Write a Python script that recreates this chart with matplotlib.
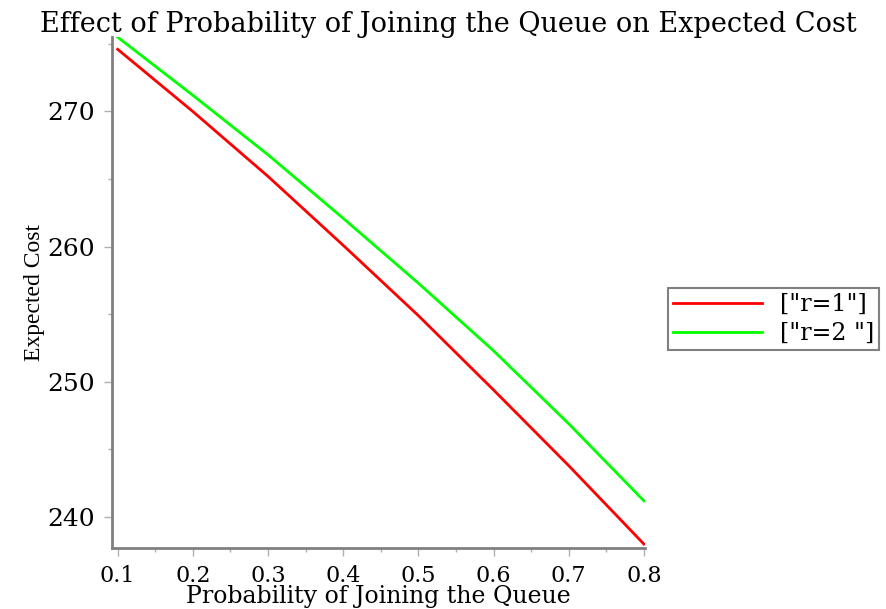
import matplotlib
matplotlib.use("Agg")
import matplotlib.pyplot as plt
from matplotlib.ticker import MultipleLocator

# probability of joining the queue
p = [0.1, 0.2, 0.3, 0.4, 0.5, 0.6, 0.7, 0.8]
# expected cost for r=1 and r=2
cost_r1 = [274.6, 270.0, 265.2, 260.1, 254.9, 249.4, 243.8, 238.0]
cost_r2 = [275.5, 271.2, 266.8, 262.1, 257.3, 252.3, 246.9, 241.2]
labels = ['["r=1"]', '["r=2 "]']

serif = ["Liberation Serif", "DejaVu Serif"]
wide = ["DejaVu Serif"]

fig = plt.figure(figsize=(8.86, 6.09), dpi=100)
ax = fig.add_axes([0.126, 0.100, 0.602, 0.839])

ax.plot(p, cost_r1, color="#ff0000", lw=2, label=labels[0])
ax.plot(p, cost_r2, color="#00ff00", lw=2, label=labels[1])

ax.set_xlim(0.092, 0.8015)
ax.set_ylim(237.7, 275.5)
ax.xaxis.set_major_locator(MultipleLocator(0.1))
ax.xaxis.set_minor_locator(MultipleLocator(0.05))
ax.yaxis.set_major_locator(MultipleLocator(10))
ax.yaxis.set_minor_locator(MultipleLocator(5))

for s in ["top", "right"]:
    ax.spines[s].set_visible(False)
for s in ["left", "bottom"]:
    ax.spines[s].set_color("#808080")
    ax.spines[s].set_linewidth(2)

ax.tick_params(which="major", length=6, width=1, color="#b0b0b0", pad=6)
ax.tick_params(which="minor", length=3, width=1, color="#b0b0b0")
ax.tick_params(axis="x", pad=6)
for t in ax.get_xticklabels():
    t.set_fontfamily(wide)
    t.set_fontsize(16)
for t in ax.get_yticklabels():
    t.set_fontfamily(wide)
    t.set_fontsize(18)

# title centred on the figure, x label placed near the bottom edge
fig.text(0.506, 0.947, "Effect of Probability of Joining the Queue on Expected Cost",
         fontfamily=wide, fontsize=19.5, ha="center", va="baseline")
fig.text(0.427, 0.01, "Probability of Joining the Queue",
         fontfamily=wide, fontsize=17, ha="center", va="baseline")
ax.set_ylabel("Expected Cost", fontfamily=serif, fontsize=17, labelpad=2)

leg = fig.legend(loc="center left", bbox_to_anchor=(0.754, 0.476),
                 prop={"family": wide, "size": 17}, fancybox=False,
                 edgecolor="#808080", framealpha=1, handlelength=3.8,
                 borderpad=0.2, labelspacing=0.25, handletextpad=0.75,
                 borderaxespad=0)
leg.get_frame().set_linewidth(1.5)

fig.savefig("out.png", dpi=100)
